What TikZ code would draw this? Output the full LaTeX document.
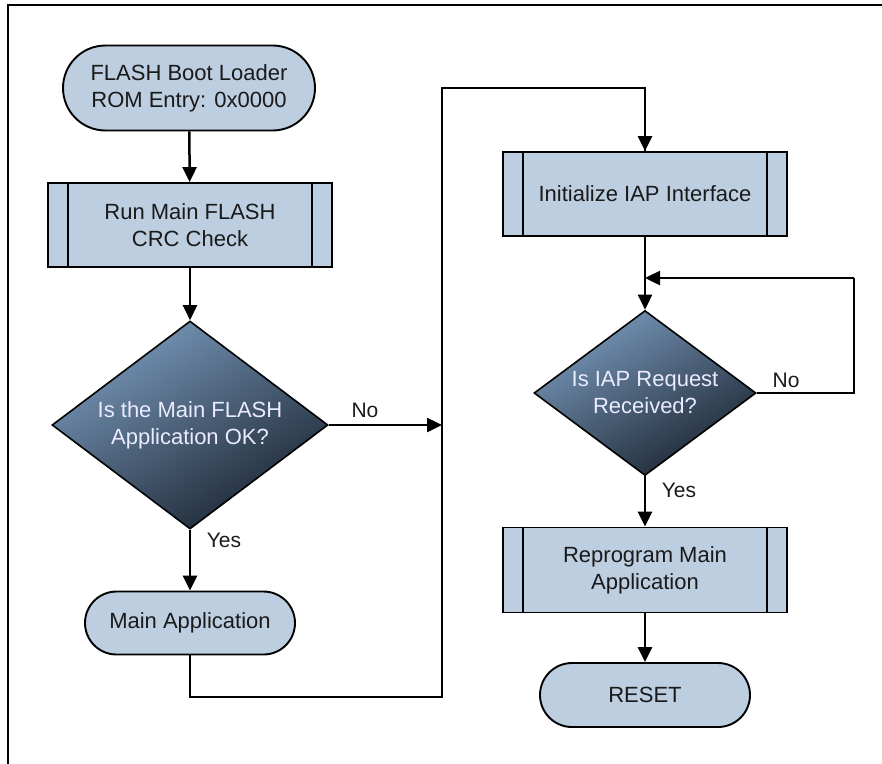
\documentclass[tikz,border=0pt]{standalone}
\usepackage{fontspec}
\setmainfont{Liberation Sans}
\usetikzlibrary{shapes.geometric,shapes.misc,arrows.meta}
\definecolor{boxfill}{HTML}{BDCEE0}
\definecolor{diamlight}{HTML}{7898BA}
\definecolor{diamdark}{HTML}{1C2633}
\definecolor{txt}{HTML}{1A1A1A}
\tikzset{
  term/.style={rounded rectangle, draw=black, line width=1.9pt, fill=boxfill, inner sep=0pt, text=txt, align=center, font=\fontsize{22}{27}\selectfont},
  proc/.style={rectangle, draw=black, line width=1.9pt, fill=boxfill, inner sep=0pt, minimum width=284pt, text=txt, align=center, font=\fontsize{22}{27}\selectfont},
  dia/.style={diamond, draw=black, line width=1.6pt, inner sep=0pt, shading=axis, top color=diamlight, bottom color=diamdark, shading angle=30},
  diatext/.style={text=white!92!blue, align=center, font=\fontsize{22}{27}\selectfont},
  lbl/.style={text=txt, font=\fontsize{21}{25}\selectfont},
  conn/.style={line width=2.5pt, draw=black},
  arr/.style={conn, -{Triangle[length=15pt,width=14pt]}},
  inner/.style={line width=2pt}
}
\begin{document}
\begin{tikzpicture}[x=1pt,y=-1pt]
\useasboundingbox (0,0) rectangle (882,763);
% frame
\draw[line width=1.4pt] (8,770) -- (8,5) -- (890,5);

% left column
\node[term, minimum width=252pt, minimum height=85pt] (start) at (189,88) {FLASH Boot Loader\\ROM Entry: 0x0000};
\node[proc, minimum height=84pt] (crc) at (190,225) {Run Main FLASH\\CRC Check};
\node[dia, minimum width=276pt, minimum height=208pt] (d1) at (190,425) {};
\node[diatext] at (d1.center) {Is the Main FLASH\\Application OK?};
\node[term, minimum width=210pt, minimum height=63pt] (mainapp) at (190,623) {Main Application};

% right column
\node[proc, minimum height=84pt] (iap) at (645,194) {Initialize IAP Interface};
\node[dia, minimum width=222pt, minimum height=165pt] (d2) at (645,393) {};
\node[diatext] at (d2.center) {Is IAP Request\\Received?};
\node[proc, minimum height=85pt] (repro) at (645,570) {Reprogram Main\\Application};
\node[term, minimum width=210pt, minimum height=64pt] (reset) at (645,695) {RESET};

% inner lines of process boxes
\foreach \n in {crc,iap,repro}{
  \draw[inner] ([xshift=21pt]\n.north west) -- ([xshift=21pt]\n.south west);
  \draw[inner] ([xshift=-21pt]\n.north east) -- ([xshift=-21pt]\n.south east);
}

% coordinates
\coordinate (bus) at (442,425);
\coordinate (busbot) at (442,697);
\coordinate (bustop) at (442,88);
\coordinate (fbr) at (854,393);
\coordinate (fbin) at (645,278);

% connectors
\draw[arr] (start) -- (crc);
\draw[arr] (crc) -- (d1);
\draw[arr] (d1) -- (mainapp);
\draw[arr] (d1.east) -- (bus);
\draw[conn] (mainapp.south) |- (busbot) -- (bustop) -| (iap.north);
\draw[arr] (bustop -| iap.north) -- (iap.north);
\draw[arr] (iap) -- (d2);
\draw[conn] (d2.east) -- (fbr) |- (fbin -| 854,0);
\draw[arr] (854,278) -- (fbin);
\draw[arr] (d2) -- (repro);
\draw[arr] (repro) -- (reset);

% labels
\node[lbl] (no1) at (365,410) {No};
\node[lbl] (yes1) at (224,540) {Yes};
\node[lbl] (no2) at (786,380) {No};
\node[lbl] (yes2) at (679,490) {Yes};
\end{tikzpicture}
\end{document}
